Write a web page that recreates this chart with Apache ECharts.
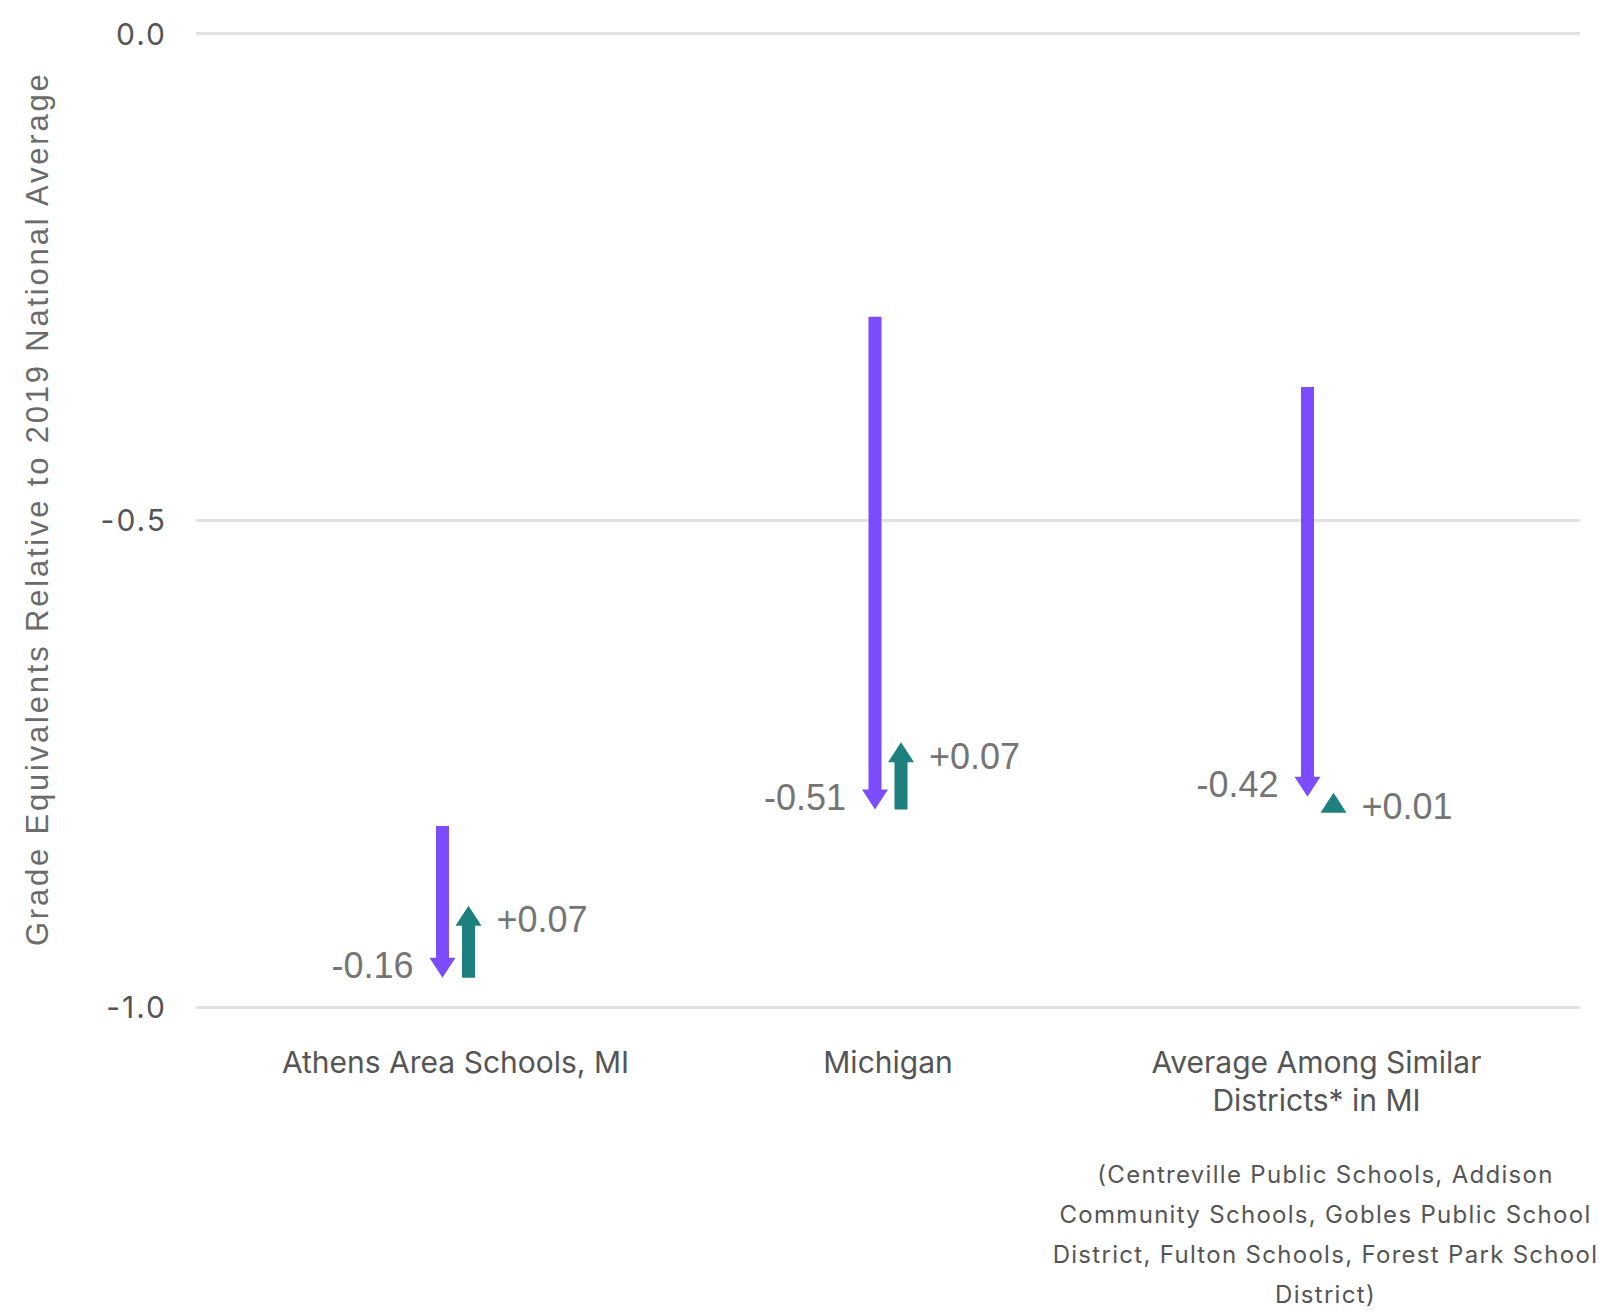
<!DOCTYPE html>
<html>
<head>
<meta charset="utf-8">
<script src="https://cdn.jsdelivr.net/npm/echarts@6/dist/echarts.min.js"></script>
<style>
html,body{margin:0;padding:0;background:#fff;}
#chart{width:1600px;height:1312px;}
#chart text[style*="Helvetica"]{letter-spacing:2.8px;}
#chart text[style*="Lato"]{letter-spacing:2px;}
#chart text[style*="Roboto"]{letter-spacing:1.3px;}
</style>
</head>
<body>
<div id="chart"></div>
<script>
// ---- data ----
const categories = ['Athens Area Schools, MI', 'Michigan', 'Average Among Similar\nDistricts* in MI'];
const categoryNote = ['', '', '(Centreville Public Schools, Addison\nCommunity Schools, Gobles Public School\nDistrict, Fulton Schools, Forest Park School\nDistrict)'];
const declineStart = [-0.814, -0.291, -0.363];    // 2019 level (grade equivalents)
const declineChange = [-0.156, -0.506, -0.421];   // change to low point
const recoveryStart = [-0.970, -0.797, -0.790];   // start of subsequent change
const recoveryChange = [0.074, 0.069, 0.010];     // subsequent change
const yTicks = [0, -0.5, -1.0];

const PURPLE = '#7C4DFF';
const TEAL = '#1E807E';
const LABEL_GRAY = '#757575';

function fmt(d) {
  const s = Math.abs(d).toFixed(2);
  return (d >= 0 ? '+' : '-') + s;
}

function makeArrowRenderer(color, dx, labelSide) {
  return function (params, api) {
    const x = api.value(0), y0 = api.value(1), y1 = api.value(2), d = api.value(3);
    const p0 = api.coord([x, y0]);
    const p1 = api.coord([x, y1]);
    const cx = p0[0] + dx;
    const dir = p1[1] > p0[1] ? 1 : -1;
    const headLen = 20, sh = 6.5, hh = 13;
    const tipY = p1[1];
    const baseY = tipY - dir * headLen;
    let pts;
    if ((p1[1] - p0[1]) * dir > headLen) {
      pts = [[cx - sh, p0[1]], [cx + sh, p0[1]], [cx + sh, baseY], [cx + hh, baseY], [cx, tipY], [cx - hh, baseY], [cx - sh, baseY]];
    } else {
      pts = [[cx - hh, baseY], [cx, tipY], [cx + hh, baseY]];
    }
    const isLeft = labelSide === 'left';
    return {
      type: 'group',
      children: [
        { type: 'polygon', shape: { points: pts }, style: { fill: color } },
        {
          type: 'text',
          style: {
            text: fmt(d),
            x: isLeft ? cx - 29 : cx + 28,
            y: isLeft ? tipY - 12 : tipY + 14,
            align: isLeft ? 'right' : 'left',
            verticalAlign: 'middle',
            fontFamily: 'Liberation Sans, Arial',
            fontSize: 36,
            fill: LABEL_GRAY
          }
        }
      ]
    };
  };
}

const declineData = categories.map((c, i) => [i, declineStart[i], declineStart[i] + declineChange[i], declineChange[i]]);
const recoveryData = categories.map((c, i) => [i, recoveryStart[i], recoveryStart[i] + recoveryChange[i], recoveryChange[i]]);

const chart = echarts.init(document.getElementById('chart'), null, { renderer: 'svg' });
chart.setOption({
  backgroundColor: '#fff',
  animation: false,
  grid: { left: 196, right: 20, top: 33.5, bottom: 305, containLabel: false },
  xAxis: {
    type: 'value',
    min: -0.6,
    max: 2.6,
    splitLine: { show: false },
    axisLine: { show: false },
    axisTick: { show: false },
    axisLabel: {
      customValues: [0, 1, 2],
      margin: 36,
      formatter: function (v) {
        const i = Math.round(v);
        if (!categoryNote[i]) return categories[i].split('\n').map(t => '{main|' + t + '}').join('\n');
        const main = categories[i].split('\n').map(t => '{mainR|' + t + '}').join('\n');
        const note = categoryNote[i].split('\n').map(t => '{note|' + t + '}').join('\n');
        return main + '\n{gap| }\n' + note;
      },
      rich: {
        main: { fontFamily: 'Inter, sans-serif', fontSize: 30, lineHeight: 38, color: '#555555' },
        mainR: { fontFamily: 'Inter, sans-serif', fontSize: 30, lineHeight: 38, color: '#555555', padding: [0, 8, 0, 0] },
        gap: { fontSize: 10, lineHeight: 35 },
        note: { fontFamily: 'Inter, Roboto', fontSize: 24, lineHeight: 40, color: '#555555', padding: [0, 0, 0, 10] }
      }
    }
  },
  yAxis: {
    type: 'value',
    min: -1,
    max: 0,
    interval: 0.5,
    name: 'Grade Equivalents Relative to 2019 National Average',
    nameLocation: 'middle',
    nameGap: 143,
    nameTextStyle: { fontFamily: 'Liberation Sans, Helvetica', fontSize: 31, color: '#6b6b6b', padding: [0, 0, 0, 23] },
    axisLine: { show: false },
    axisTick: { show: false },
    axisLabel: {
      margin: 29,
      fontFamily: 'Inter, Lato',
      fontSize: 30,
      color: '#555555',
      formatter: v => v.toFixed(1)
    },
    splitLine: { lineStyle: { color: '#e2e2e2', width: 3 } }
  },
  series: [
    { type: 'custom', name: 'Decline', data: declineData, encode: { x: 0, y: [1, 2] }, renderItem: makeArrowRenderer(PURPLE, -13, 'left') },
    { type: 'custom', name: 'Recovery', data: recoveryData, encode: { x: 0, y: [1, 2] }, renderItem: makeArrowRenderer(TEAL, 13, 'right') }
  ]
});
</script>
</body>
</html>
